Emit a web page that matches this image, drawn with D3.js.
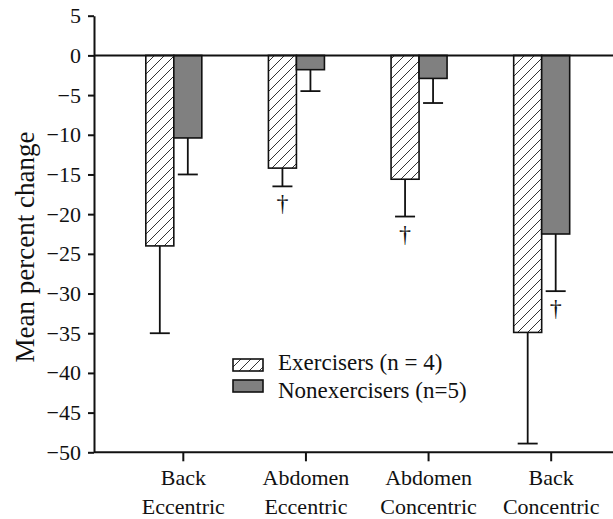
<!DOCTYPE html>
<html><head><meta charset="utf-8">
<script src="https://cdn.jsdelivr.net/npm/d3@7"></script>
<style>body{margin:0;background:#fff}svg{display:block}svg text{font-family:"Liberation Serif",serif !important;fill:#111}</style>
</head><body><svg id="c" width="613" height="519"></svg>
<script>
const categories = [["Back","Eccentric"],["Abdomen","Eccentric"],["Abdomen","Concentric"],["Back","Concentric"]];
const seriesNames = ["Exercisers (n = 4)", "Nonexercisers (n=5)"];
const exercisersMean = [-24.0, -14.2, -15.6, -34.9];
const exercisersErrEnd = [-35.0, -16.5, -20.3, -48.9];
const exercisersDagger = [false, true, true, false];
const nonexMean = [-10.4, -1.8, -2.9, -22.5];
const nonexErrEnd = [-15.0, -4.5, -6.0, -29.7];
const nonexDagger = [false, false, false, true];
const yTicks = [5,0,-5,-10,-15,-20,-25,-30,-35,-40,-45,-50];

const FONT = "Liberation Serif";
const svg = d3.select("#c");
const defs = svg.append("defs");
const pat = defs.append("pattern").attr("id","hatch").attr("patternUnits","userSpaceOnUse")
  .attr("width",10).attr("height",10);
pat.append("rect").attr("width",10).attr("height",10).attr("fill","#fff");
pat.append("path").attr("d","M-1,1 l2,-2 M0,10 l10,-10 M9,11 l2,-2").attr("stroke","#333").attr("stroke-width",1);

const y = d3.scaleLinear().domain([-50,5]).range([452.3,15.7]);
const catIdx = categories.map((d,i)=>i);
const x = d3.scaleBand().domain(catIdx).range([122,612.5]).padding(0);
const inner = d3.scaleBand().domain([0,1]).range([0,56]);
const pairOffset = -37.5;
const xAxisLeft = 94, xAxisRight = 613;

// y axis
const gy = svg.append("g").attr("transform",`translate(${xAxisLeft},0)`)
  .call(d3.axisLeft(y).tickValues(yTicks).tickSize(6).tickSizeOuter(0).tickPadding(7).tickFormat(d3.format("d")));
gy.attr("font-family",FONT).attr("font-size",22);
gy.select(".domain").attr("stroke","#111").attr("stroke-width",2);
gy.selectAll(".tick line").attr("stroke","#111").attr("stroke-width",2);
gy.selectAll(".tick text").attr("fill","#111");

// x axis
const gx = svg.append("g").attr("transform",`translate(0,${y(-50)})`)
  .call(d3.axisBottom(x).tickSize(9).tickSizeOuter(0).tickFormat(""));
gx.attr("font-family",FONT).attr("font-size",22);
gx.select(".domain").attr("d",`M${xAxisLeft},0H${xAxisRight}`).attr("stroke","#111").attr("stroke-width",2);
gx.selectAll(".tick line").attr("stroke","#111").attr("stroke-width",2);
gx.selectAll(".tick").each(function(d){
  const t = d3.select(this).append("text").attr("text-anchor","middle").attr("fill","#111");
  t.append("tspan").attr("x",0).attr("y",33).text(categories[d][0]);
  t.append("tspan").attr("x",0).attr("y",62).text(categories[d][1]);
});

const series = [
  {mean: exercisersMean, err: exercisersErrEnd, dag: exercisersDagger, fill:"url(#hatch)"},
  {mean: nonexMean, err: nonexErrEnd, dag: nonexDagger, fill:"#808080"}
];
series.forEach((s,si)=>{
  const g = svg.append("g");
  catIdx.forEach(i=>{
    const bx = x(i) + x.bandwidth()/2 + pairOffset + inner(si);
    const bw = inner.bandwidth();
    const cx = bx + bw/2;
    g.append("line").attr("x1",cx).attr("x2",cx).attr("y1",y(s.mean[i])).attr("y2",y(s.err[i]))
      .attr("stroke","#111").attr("stroke-width",1.8);
    g.append("line").attr("x1",cx-10).attr("x2",cx+10).attr("y1",y(s.err[i])).attr("y2",y(s.err[i]))
      .attr("stroke","#111").attr("stroke-width",1.8);
    g.append("rect").attr("x",bx).attr("y",y(0)).attr("width",bw).attr("height",y(s.mean[i])-y(0))
      .attr("fill",s.fill).attr("stroke","#111").attr("stroke-width",1.6);
    if(s.dag[i]){
      g.append("text").attr("x",cx).attr("y",y(s.err[i])+25).attr("text-anchor","middle")
        .attr("font-family",FONT).attr("font-size",24).attr("fill","#111").text("\u2020");
    }
  });
});
// zero line over bars
svg.append("line").attr("x1",xAxisLeft).attr("x2",xAxisRight).attr("y1",y(0)).attr("y2",y(0))
  .attr("stroke","#111").attr("stroke-width",2);

// y title
svg.append("text").attr("transform","translate(34,247) rotate(-90)").attr("text-anchor","middle")
  .attr("font-family",FONT).attr("font-size",27).attr("fill","#111").text("Mean percent change");

// legend
const leg = svg.append("g").attr("font-family",FONT).attr("font-size",23);
const legFills = ["url(#hatch)","#808080"];
const legBoxY = [359,380];
const legTextY = [370,398];
seriesNames.forEach((n,i)=>{
  leg.append("rect").attr("x",233).attr("y",legBoxY[i]).attr("width",30).attr("height",12)
    .attr("fill",legFills[i]).attr("stroke","#111").attr("stroke-width",1.6);
  leg.append("text").attr("x",278).attr("y",legTextY[i]).attr("fill","#111").text(n);
});
</script></body></html>
